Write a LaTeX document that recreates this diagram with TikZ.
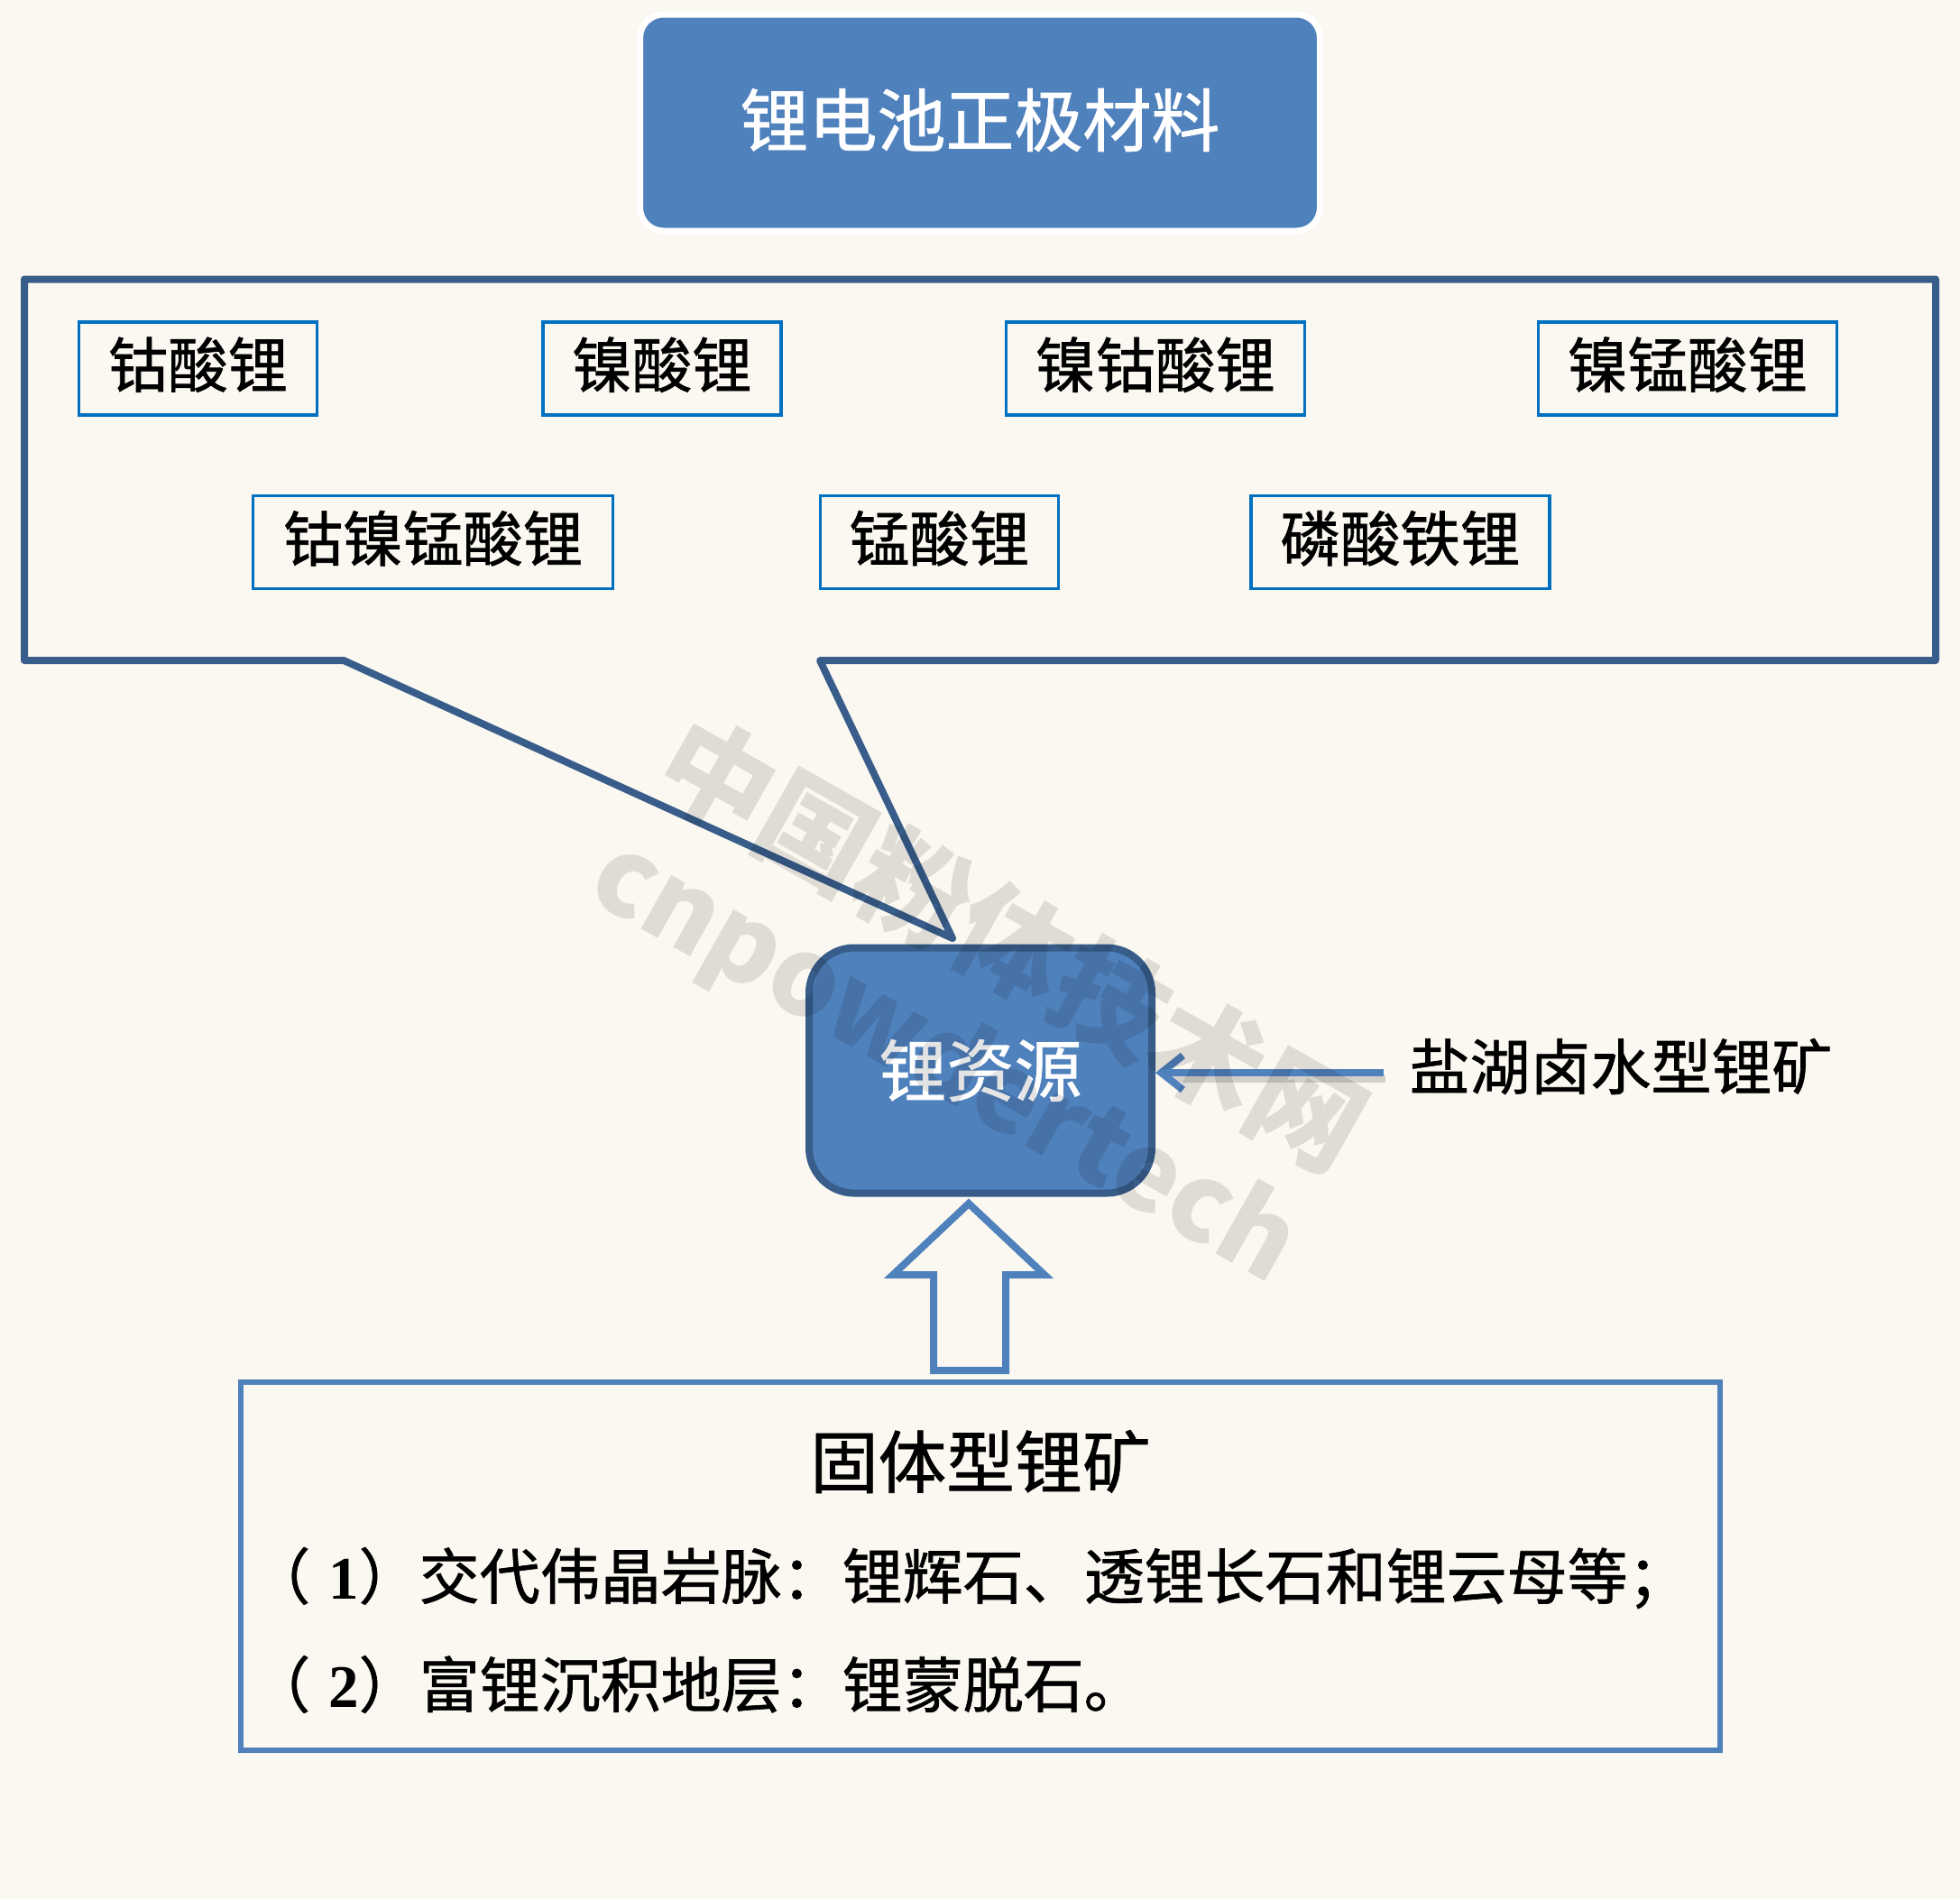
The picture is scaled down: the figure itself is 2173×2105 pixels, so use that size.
\documentclass[tikz,border=0pt]{standalone}
\usepackage{fontspec}
\setmainfont[FakeBold=1]{Noto Sans CJK SC}
\newfontfamily\markfont{Noto Sans CJK SC}
\newfontfamily\digitfont{Liberation Serif}
\usetikzlibrary{arrows.meta}
\definecolor{pagebg}{HTML}{FBF8F1}
\definecolor{fillblue}{HTML}{4F81BD}
\definecolor{darkblue}{HTML}{385D8A}
\definecolor{brightblue}{HTML}{0070C0}
\newcommand{\fs}[1]{\fontsize{#1}{#1}\selectfont}
\newcommand{\up}[1]{\raisebox{14pt}{#1}}
\tikzset{
  x=1pt,y=-1pt,
  matbox/.style={draw=brightblue,line width=3.6pt,inner sep=0pt,minimum height=103pt,font=\fs{66.5},text=black},
  titlebox/.style={fill=fillblue,draw=white,line width=7pt,rounded corners=26pt,inner sep=0pt,minimum width=754pt,minimum height=240pt,font=\fs{76},text=white},
  srcbox/.style={fill=fillblue,draw=darkblue,line width=8pt,rounded corners=50pt,inner sep=0pt,minimum width=380pt,minimum height=272pt,font=\fs{75},text=white},
  plain/.style={inner sep=0pt,font=\fs{67},text=black},
  solidbox/.style={draw=fillblue,line width=6pt,inner sep=0pt,minimum width=1640pt,minimum height=408pt},
  bigtext/.style={inner sep=0pt,font=\fs{75.5},text=black},
  mark text/.style={inner sep=0pt,rotate=-29.5,font=\markfont\bfseries\fs{#1},text=black},
  callout/.style={draw=darkblue,line width=8pt,line join=round},
  thinarrow/.style={draw=fillblue,line width=8pt,-{Straight Barb[length=24pt,width=38pt,line width=8pt]}},
  blockarrow/.style={draw=fillblue,line width=8pt,line join=miter},
}
\begin{document}
\begin{tikzpicture}
\useasboundingbox (0,0) rectangle (2173,2105);
\fill[pagebg] (0,0) rectangle (2173,2105);

% title
\node[titlebox] (title) at (1086.5,136) {\raisebox{12pt}{锂电池正极材料}};

% callout
\coordinate (tip) at (1056,1040);
\draw[callout] (27,309.5) -- (2146,309.5) -- (2146,732) -- (909,732) -- (tip) -- (381,732) -- (27,732) -- cycle;

% materials
\node[matbox,minimum width=264pt] (m1) at (219.5,408.5) {\up{钴酸锂}};
\node[matbox,minimum width=264pt] (m2) at (734,408.5) {\up{镍酸锂}};
\node[matbox,minimum width=331pt] (m3) at (1281,408.5) {\up{镍钴酸锂}};
\node[matbox,minimum width=331pt] (m4) at (1871,408.5) {\up{镍锰酸锂}};
\node[matbox,minimum width=399pt] (m5) at (480,601) {\up{钴镍锰酸锂}};
\node[matbox,minimum width=264pt] (m6) at (1041.5,601) {\up{锰酸锂}};
\node[matbox,minimum width=331pt] (m7) at (1552.5,601) {\up{磷酸铁锂}};

% source
\node[srcbox] (src) at (1087,1186.5) {锂资源};

% salt lake
\node[plain] (salt) at (1797,1182) {盐湖卤水型锂矿};
\coordinate (saltend) at (1534,1189);
\draw[draw=black,opacity=.16,line width=8pt] (1536,1196) -- (1300,1196);
\draw[thinarrow] (saltend) -- (src.east |- saltend);

% solid ore box
\node[solidbox] (ore) at (1087,1736) {};
\node[bigtext] (oretitle) at (1087,1620) {固体型锂矿};
\node[plain,anchor=west] (l1) at (277,1749) {（\kern20pt{\digitfont\bfseries 1}）交代伟晶岩脉：锂辉石、透锂长石和锂云母等；};
\node[plain,anchor=west] (l2) at (277,1867) {（\kern20pt{\digitfont\bfseries 2}）富锂沉积地层：锂蒙脱石。};

% hollow arrow
\draw[blockarrow] (1074,1334) -- (1158,1413) -- (1115,1413) -- (1115,1519) -- (1035,1519) -- (1035,1413) -- (990,1413) -- cycle;

% watermark
\node[mark text=125,text opacity=.11] (wm1) at (1123,1046) {中国粉体技术网};
\node[mark text=120,text opacity=.11] (wm2) at (1046,1178) {cnpowdertech};
\end{tikzpicture}
\end{document}
